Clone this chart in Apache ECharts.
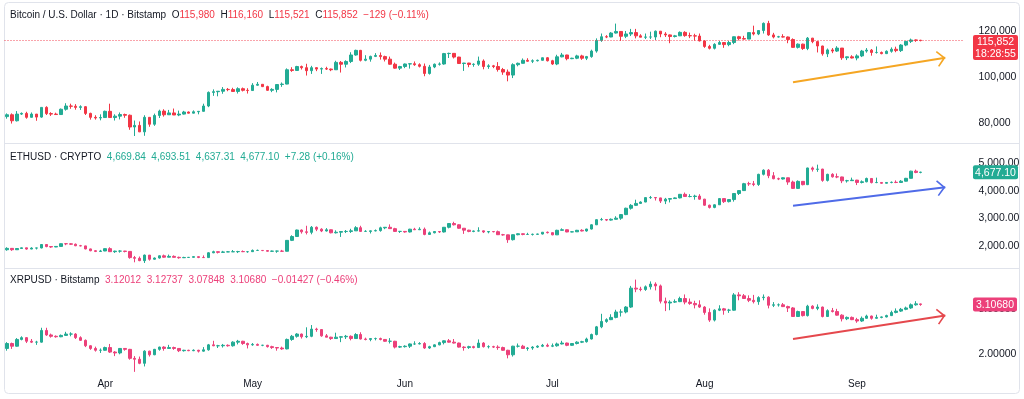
<!DOCTYPE html>
<html>
<head>
<meta charset="utf-8">
<script src="https://cdn.jsdelivr.net/npm/echarts@6/dist/echarts.min.js"></script>
<style>
html,body{margin:0;padding:0;background:#fff;}
#chart{width:1024px;height:399px;}
</style>
</head>
<body>
<div id="chart"></div>
<script>
const FONT = "'Liberation Sans',Arial,sans-serif";
const FS = 10;

// First trading day shown; categories are consecutive daily dates
const startDate = '2025-03-12';
const emptyDaysAfter = 8;
const monthLabels = {'04':'Apr','05':'May','06':'Jun','07':'Jul','08':'Aug','09':'Sep'};

// Tick labels shown on each price scale
const btcTicks = [80000, 100000, 120000];
const ethTicks = [2000, 3000, 4000, 5000];
const xrpTicks = [2, 3];

const btcCountdown = '18:28:55';

// Daily candles [open, high, low, close]
const btc = [
[82900,84300,82000,83700],[83700,84300,79900,81100],[81100,85300,80800,84000],[84000,84700,83600,84300],
[84300,85000,82000,82600],[82600,84700,82500,84000],[84000,84000,81100,82700],[82700,87000,82400,86900],
[86900,87400,83600,84200],[84200,84800,83200,84000],[84000,84600,83700,83800],[83800,86400,83600,86100],
[86100,88700,85500,87500],[87500,88500,86300,87400],[87400,88300,85900,86900],[86900,87800,85800,87200],
[87200,87500,83600,84300],[84300,84600,81600,82600],[82600,83500,81600,82300],[82300,83900,81300,82500],
[82500,85500,82400,85200],[85200,88500,82300,82500],[82500,83900,81200,83100],[83100,84700,81700,83800],
[83800,84200,82400,83500],[83500,83800,77200,78400],[78400,81200,74500,79100],[79100,80800,76200,76300],
[76300,83500,74600,82600],[82600,82700,78500,79600],[79600,84200,78900,83400],[83400,85900,82300,85300],
[85300,86100,82900,83700],[83700,85800,83600,84500],[84500,86400,83600,83600],[83600,85500,83100,84000],
[84000,85400,83800,84900],[84900,85100,84300,84400],[84400,85600,84300,85000],[85000,85300,83900,85200],
[85200,88500,85100,87500],[87500,93800,87000,93400],[93400,94700,91900,93700],[93700,94000,91700,93900],
[93900,95700,92800,94700],[94700,95300,93900,94600],[94600,95400,93600,93800],[93800,95600,92900,95000],
[95000,95500,93800,94300],[94300,95200,92900,94200],[94200,97400,94100,96500],[96500,97900,96300,96900],
[96900,96900,95700,95900],[95900,96300,94100,94300],[94300,95200,93500,94700],[94700,96900,93400,96800],
[96800,97700,95800,97000],[97000,103800,96900,103200],[103200,104300,102300,102900],[102900,104900,102800,104600],
[104600,105000,103300,104100],[104100,105800,100700,102800],[102800,104900,101400,104100],[104100,104300,102600,103500],
[103500,104200,101400,103700],[103700,104500,103100,103500],[103500,103700,102600,103200],[103200,107100,103100,106400],
[106400,107000,102000,105600],[105600,107300,104200,106800],[106800,110800,106100,109600],[109600,111900,109300,111600],
[111600,111800,106800,107300],[107300,109500,106900,107800],[107800,109300,106700,109000],[109000,110400,108700,109400],
[109400,110700,107600,108900],[108900,109300,106800,107800],[107800,108900,105400,105600],[105600,106300,103700,103900],
[103900,104900,103100,104600],[104600,105900,103900,105700],[105700,105900,103700,105800],[105800,106800,104900,105400],
[105400,106000,104200,104700],[104700,105900,100400,101600],[101600,105300,101100,104400],[104400,105900,103900,105600],
[105600,106400,105000,105700],[105700,110500,105400,110200],[110200,110600,108300,110300],[110300,110400,108100,108700],
[108700,108800,105700,105900],[105900,106200,102700,106100],[106100,106200,104300,105500],[105500,106000,104500,105600],
[105600,108900,104900,107000],[107000,107700,103400,104600],[104600,105600,103600,104900],[104900,105300,103900,104600],
[104600,106500,102400,103300],[103300,104000,101000,102200],[102200,103300,98200,100900],[100900,106000,99600,105400],
[105400,106300,104700,106000],[106000,108100,105900,107300],[107300,108200,106700,106900],[106900,107700,106100,107100],
[107100,107600,106800,107300],[107300,108500,107200,108400],[108400,108700,106800,107100],[107100,107500,105300,105700],
[105700,109700,105200,108800],[108800,110500,108600,109600],[109600,109700,107300,108000],[108000,108400,107800,108200],
[108200,109700,107800,109200],[109200,109700,107500,108200],[108200,109200,107400,108900],[108900,111900,108400,111300],
[111300,116800,110600,115900],[115900,118900,115300,117500],[117500,118200,116900,117400],[117400,119500,117300,119100],
[119100,123200,118900,119800],[119800,119900,115700,117700],[117700,120000,116900,118700],[118700,120900,117800,119300],
[119300,120900,116800,117900],[117900,118600,117300,117300],[117300,118900,116500,117400],[117400,119700,116500,117400],
[117400,120200,116100,119900],[119900,120000,117300,118700],[118700,119500,117400,118300],[118300,118500,114700,117600],
[117600,118300,117200,117900],[117900,119800,117800,119400],[119400,119900,117500,118000],[118000,119300,116900,117900],
[117900,118800,115800,117800],[117800,118900,115500,115700],[115700,116000,112700,113300],[113300,114000,112000,112500],
[112500,114700,112000,114200],[114200,115700,114100,115000],[115000,115100,112700,114100],[114100,115700,113400,115000],
[115000,117600,114300,117500],[117500,117900,115900,116700],[116700,117900,116300,116500],[116500,119300,116500,119300],
[119300,122300,118100,118700],[118700,120300,118200,120200],[120200,123700,118900,123300],[123300,124400,117900,118300],
[118300,119200,116800,117400],[117400,117900,117200,117500],[117500,118600,117200,117400],[117400,117600,114700,116300],
[116300,116800,112700,112900],[112900,114600,112400,114300],[114300,114500,111800,112400],[112400,117400,111700,116900],
[116900,117000,114700,115400],[115400,115600,110700,113500],[113500,113600,109300,110100],[110100,112400,108700,111800],
[111800,112600,110400,111300],[111300,113400,110900,112600],[112600,112600,107500,108400],[108400,108900,107400,108800],
[108800,109500,108100,108300],[108300,109900,107300,109200],[109200,111800,108700,111300],[111300,112600,110600,111700],
[111700,112200,109300,110700],[110700,113300,110200,110700],[110700,111100,109900,110200],[110200,111600,110000,111200],
[111200,112900,110600,112100],[112100,113200,110800,111500],[111500,114300,110900,113900],[113900,115500,113400,115500],
[115500,116700,114800,116100],[116100,116300,115300,115981],[115980,116160,115521,115852]
];

const eth = [
[1865,1955,1830,1915],[1915,1925,1825,1865],[1865,1925,1860,1910],[1910,1945,1900,1935],
[1935,1940,1865,1890],[1890,1955,1885,1925],[1925,1935,1875,1930],[1930,2060,1915,2055],
[2055,2070,1955,1980],[1980,2000,1935,1965],[1965,2000,1960,1985],[1985,2090,1980,2085],
[2085,2100,2030,2080],[2080,2105,2040,2065],[2065,2090,1995,2010],[2010,2040,1990,2005],
[2005,2010,1880,1895],[1895,1905,1810,1830],[1830,1850,1780,1805],[1805,1860,1790,1820],
[1820,1915,1815,1905],[1905,1955,1785,1795],[1795,1830,1750,1815],[1815,1845,1760,1815],
[1815,1825,1770,1805],[1805,1815,1540,1580],[1580,1640,1410,1555],[1555,1620,1450,1470],
[1470,1690,1385,1670],[1670,1675,1470,1520],[1520,1585,1505,1565],[1565,1660,1545,1645],
[1645,1690,1575,1595],[1595,1690,1590,1625],[1625,1660,1585,1590],[1590,1615,1540,1575],
[1575,1610,1565,1585],[1585,1600,1575,1590],[1590,1625,1580,1615],[1615,1620,1560,1585],
[1585,1660,1575,1580],[1580,1775,1575,1755],[1755,1830,1740,1795],[1795,1800,1730,1770],
[1770,1825,1750,1785],[1785,1820,1780,1790],[1790,1855,1785,1795],[1795,1825,1745,1800],
[1800,1840,1780,1795],[1795,1820,1755,1795],[1795,1875,1790,1840],[1840,1870,1825,1840],
[1840,1845,1815,1835],[1835,1845,1800,1810],[1810,1835,1785,1815],[1815,1830,1755,1815],
[1815,1860,1790,1810],[1810,2215,1805,2205],[2205,2390,2180,2345],[2345,2595,2335,2580],
[2580,2600,2450,2515],[2515,2735,2420,2495],[2495,2725,2425,2680],[2680,2710,2540,2610],
[2610,2645,2505,2545],[2545,2650,2525,2590],[2590,2600,2460,2480],[2480,2570,2455,2500],
[2500,2530,2330,2525],[2525,2580,2470,2530],[2530,2625,2475,2550],[2550,2720,2545,2665],
[2665,2735,2515,2530],[2530,2575,2510,2530],[2530,2560,2455,2550],[2550,2600,2530,2560],
[2560,2700,2520,2660],[2660,2680,2610,2680],[2680,2785,2620,2630],[2630,2660,2510,2530],
[2530,2545,2475,2530],[2530,2545,2485,2510],[2510,2625,2490,2610],[2610,2660,2580,2590],
[2590,2680,2585,2610],[2610,2670,2390,2420],[2420,2525,2400,2480],[2480,2540,2460,2525],
[2525,2535,2475,2510],[2510,2690,2490,2680],[2680,2830,2640,2815],[2815,2880,2745,2770],
[2770,2790,2625,2645],[2645,2650,2440,2575],[2575,2590,2500,2530],[2530,2560,2500,2545],
[2545,2680,2530,2550],[2550,2560,2470,2510],[2510,2540,2460,2525],[2525,2535,2495,2520],
[2520,2560,2400,2410],[2410,2440,2375,2405],[2405,2410,2115,2230],[2230,2420,2200,2410],
[2410,2460,2390,2445],[2445,2455,2390,2420],[2420,2480,2400,2420],[2420,2450,2380,2425],
[2425,2445,2410,2435],[2435,2505,2420,2500],[2500,2525,2455,2485],[2485,2490,2390,2405],
[2405,2590,2400,2570],[2570,2640,2565,2590],[2590,2600,2500,2510],[2510,2530,2500,2515],
[2515,2585,2510,2570],[2570,2610,2530,2545],[2545,2625,2520,2615],[2615,2790,2600,2770],
[2770,2970,2760,2955],[2955,3020,2920,2960],[2960,2970,2905,2940],[2940,3000,2920,2970],
[2970,3080,2960,3010],[3010,3160,2950,3140],[3140,3390,3120,3370],[3370,3520,3320,3475],
[3475,3680,3450,3545],[3545,3620,3535,3595],[3595,3765,3590,3755],[3755,3815,3710,3760],
[3760,3770,3650,3745],[3745,3750,3560,3630],[3630,3745,3520,3700],[3700,3735,3580,3720],
[3720,3765,3710,3745],[3745,3880,3730,3875],[3875,3940,3780,3795],[3795,3880,3765,3795],
[3795,3860,3680,3810],[3810,3880,3680,3700],[3700,3710,3460,3480],[3480,3500,3360,3400],
[3400,3510,3370,3495],[3495,3735,3490,3720],[3720,3730,3560,3610],[3610,3700,3580,3685],
[3685,3920,3610,3905],[3905,4030,3850,4010],[4010,4290,4000,4260],[4260,4330,4180,4255],
[4255,4360,4170,4230],[4230,4620,4180,4600],[4600,4780,4560,4750],[4750,4790,4460,4550],
[4550,4680,4420,4440],[4440,4480,4390,4430],[4430,4490,4410,4475],[4475,4480,4220,4320],
[4320,4370,4070,4090],[4090,4380,4070,4345],[4345,4350,4200,4225],[4225,4840,4210,4830],
[4830,4880,4700,4780],[4780,4950,4690,4790],[4790,4800,4330,4380],[4380,4620,4340,4600],
[4600,4640,4480,4510],[4510,4630,4460,4505],[4505,4515,4280,4365],[4365,4400,4300,4370],
[4370,4480,4360,4390],[4390,4400,4210,4305],[4305,4380,4270,4330],[4330,4480,4310,4450],
[4450,4460,4270,4300],[4300,4480,4280,4305],[4305,4320,4260,4275],[4275,4320,4270,4305],
[4305,4340,4275,4310],[4310,4380,4280,4305],[4305,4390,4290,4350],[4350,4470,4340,4455],
[4455,4730,4450,4715],[4715,4770,4640,4669.82],[4669.84,4693.51,4637.31,4677.10]
];

const xrp = [
[2.13,2.27,2.08,2.24],[2.24,2.26,2.12,2.18],[2.18,2.36,2.17,2.33],[2.33,2.40,2.31,2.37],
[2.37,2.38,2.25,2.29],[2.29,2.34,2.25,2.27],[2.27,2.30,2.21,2.27],[2.27,2.59,2.26,2.53],
[2.53,2.59,2.41,2.43],[2.43,2.46,2.37,2.40],[2.40,2.42,2.37,2.39],[2.39,2.44,2.38,2.42],
[2.42,2.50,2.41,2.45],[2.45,2.49,2.40,2.45],[2.45,2.47,2.34,2.37],[2.37,2.40,2.30,2.31],
[2.31,2.33,2.16,2.19],[2.19,2.20,2.10,2.13],[2.13,2.17,2.06,2.09],[2.09,2.13,2.03,2.09],
[2.09,2.17,2.08,2.15],[2.15,2.23,2.03,2.05],[2.05,2.07,1.96,2.03],[2.03,2.14,2.00,2.13],
[2.13,2.14,2.08,2.11],[2.11,2.12,1.88,1.91],[1.91,1.96,1.61,1.89],[1.89,1.95,1.78,1.80],
[1.80,2.09,1.73,2.07],[2.07,2.08,1.95,1.99],[1.99,2.12,1.98,2.11],[2.11,2.17,2.08,2.16],
[2.16,2.18,2.08,2.13],[2.13,2.21,2.12,2.15],[2.15,2.17,2.10,2.13],[2.13,2.13,2.05,2.08],
[2.08,2.10,2.06,2.09],[2.09,2.10,2.07,2.08],[2.08,2.11,2.07,2.09],[2.09,2.10,2.04,2.07],
[2.07,2.16,2.06,2.10],[2.10,2.23,2.08,2.21],[2.21,2.30,2.18,2.19],[2.19,2.21,2.14,2.19],
[2.19,2.23,2.15,2.20],[2.20,2.22,2.17,2.19],[2.19,2.29,2.17,2.27],[2.27,2.32,2.22,2.29],
[2.29,2.30,2.21,2.24],[2.24,2.26,2.13,2.21],[2.21,2.25,2.19,2.22],[2.22,2.24,2.19,2.20],
[2.20,2.21,2.18,2.20],[2.20,2.21,2.15,2.17],[2.17,2.19,2.12,2.15],[2.15,2.16,2.08,2.14],
[2.14,2.17,2.10,2.12],[2.12,2.35,2.11,2.33],[2.33,2.43,2.30,2.40],[2.40,2.47,2.37,2.45],
[2.45,2.46,2.35,2.39],[2.39,2.60,2.36,2.40],[2.40,2.65,2.38,2.56],[2.56,2.59,2.50,2.55],
[2.55,2.56,2.39,2.41],[2.41,2.45,2.38,2.38],[2.38,2.39,2.32,2.35],[2.35,2.48,2.34,2.38],
[2.38,2.40,2.27,2.39],[2.39,2.43,2.34,2.40],[2.40,2.42,2.31,2.35],[2.35,2.47,2.34,2.44],
[2.44,2.49,2.33,2.34],[2.34,2.37,2.31,2.33],[2.33,2.35,2.29,2.35],[2.35,2.37,2.31,2.35],
[2.35,2.37,2.31,2.33],[2.33,2.34,2.28,2.29],[2.29,2.36,2.24,2.29],[2.29,2.30,2.13,2.16],
[2.16,2.19,2.14,2.17],[2.17,2.20,2.15,2.18],[2.18,2.24,2.14,2.23],[2.23,2.29,2.21,2.23],
[2.23,2.27,2.22,2.24],[2.24,2.27,2.12,2.14],[2.14,2.19,2.12,2.17],[2.17,2.22,2.16,2.21],
[2.21,2.28,2.20,2.26],[2.26,2.31,2.22,2.30],[2.30,2.34,2.26,2.27],[2.27,2.34,2.24,2.25],
[2.25,2.26,2.15,2.16],[2.16,2.18,2.08,2.15],[2.15,2.19,2.12,2.17],[2.17,2.19,2.13,2.15],
[2.15,2.33,2.14,2.25],[2.25,2.27,2.15,2.17],[2.17,2.20,2.13,2.17],[2.17,2.19,2.14,2.16],
[2.16,2.20,2.10,2.15],[2.15,2.17,2.08,2.09],[2.09,2.10,1.91,1.99],[1.99,2.19,1.95,2.18],
[2.18,2.24,2.15,2.18],[2.18,2.21,2.12,2.13],[2.13,2.16,2.08,2.14],[2.14,2.18,2.10,2.16],
[2.16,2.20,2.14,2.18],[2.18,2.23,2.16,2.20],[2.20,2.24,2.16,2.18],[2.18,2.24,2.16,2.19],
[2.19,2.26,2.17,2.23],[2.23,2.30,2.22,2.25],[2.25,2.26,2.18,2.20],[2.20,2.25,2.19,2.24],
[2.24,2.29,2.22,2.27],[2.27,2.30,2.25,2.28],[2.28,2.37,2.26,2.34],[2.34,2.46,2.33,2.44],
[2.44,2.63,2.42,2.61],[2.61,2.90,2.58,2.73],[2.73,2.80,2.70,2.77],[2.77,2.89,2.76,2.82],
[2.82,2.99,2.80,2.94],[2.94,3.00,2.84,2.94],[2.94,3.07,2.91,3.05],[3.05,3.52,3.03,3.47],
[3.47,3.66,3.38,3.45],[3.45,3.50,3.40,3.44],[3.44,3.53,3.41,3.50],[3.50,3.62,3.44,3.56],
[3.56,3.60,3.42,3.52],[3.52,3.55,3.13,3.18],[3.18,3.26,2.96,3.14],[3.14,3.20,2.98,3.16],
[3.16,3.22,3.14,3.17],[3.17,3.28,3.16,3.24],[3.24,3.33,3.11,3.16],[3.16,3.24,3.10,3.13],
[3.13,3.19,3.02,3.10],[3.10,3.20,3.03,3.05],[3.05,3.07,2.88,2.93],[2.93,3.02,2.72,2.76],
[2.76,3.00,2.73,2.98],[2.98,3.09,2.96,3.01],[3.01,3.03,2.88,2.98],[2.98,3.01,2.92,2.98],
[2.98,3.36,2.97,3.32],[3.32,3.38,3.20,3.30],[3.30,3.34,3.24,3.24],[3.24,3.31,3.16,3.20],
[3.20,3.32,3.13,3.17],[3.17,3.29,3.10,3.26],[3.26,3.33,3.20,3.27],[3.27,3.29,3.02,3.09],
[3.09,3.16,3.05,3.10],[3.10,3.13,3.06,3.10],[3.10,3.14,3.05,3.06],[3.06,3.08,2.94,3.03],
[3.03,3.05,2.83,2.84],[2.84,2.97,2.83,2.95],[2.95,2.96,2.84,2.86],[2.86,3.10,2.84,3.07],
[3.07,3.09,3.00,3.02],[3.02,3.11,2.98,3.05],[3.05,3.06,2.82,2.84],[2.84,3.00,2.83,2.97],
[2.97,3.03,2.93,2.95],[2.95,3.01,2.86,2.87],[2.87,2.89,2.73,2.79],[2.79,2.84,2.76,2.82],
[2.82,2.84,2.76,2.77],[2.77,2.81,2.70,2.74],[2.74,2.84,2.72,2.80],[2.80,2.88,2.79,2.85],
[2.85,2.86,2.77,2.80],[2.80,2.88,2.79,2.82],[2.82,2.84,2.80,2.83],[2.83,2.88,2.82,2.86],
[2.86,2.97,2.85,2.93],[2.93,3.02,2.91,2.96],[2.96,3.03,2.94,3.00],[3.00,3.06,2.98,3.03],
[3.03,3.13,3.01,3.10],[3.10,3.18,3.08,3.12107],[3.12012,3.12737,3.07848,3.10680]
];

// Trend arrows: [startDateIndex, startValue], [endDateIndex, endValue]
const btcArrow = [[160, 97800], [191, 108400]];
const ethArrow = [[160, 3460], [191, 4130]];
const xrpArrow = [[160, 2.34], [191, 2.86]];

// ---------- build ----------
const N = btc.length;
const dates = [];
{
  const t0 = Date.parse(startDate + 'T00:00:00Z');
  for (let i = 0; i < N + emptyDaysAfter; i++) {
    dates.push(new Date(t0 + i * 86400000).toISOString().slice(0, 10));
  }
}
const toEC = rows => rows.map(r => [r[0], r[3], r[2], r[1]]);

const UP = '#22ab94';
const BTC_DOWN = '#f23645';
const ALT_DOWN = '#ec407a';
const TXT = '#131722';

const fmtBtc = v => Math.round(v).toLocaleString('en-US');
const fmtEth = v => v.toLocaleString('en-US', {minimumFractionDigits: 2, maximumFractionDigits: 2});
const fmtXrp = v => v.toFixed(5);
const signed = (d, f) => (d < 0 ? '\u2212' : '+') + f(Math.abs(d));

function header(rows, fmt, name, letters) {
  const last = rows[rows.length - 1], prev = rows[rows.length - 2][3];
  const d = last[3] - prev, p = d / prev * 100;
  const lab = ['O', 'H', 'L', 'C'];
  let s = '{n|' + name + '}';
  for (let i = 0; i < 4; i++) {
    s += '  ' + (letters ? '{n|' + lab[i] + '}' : '') + '{v|' + fmt(last[i]) + '}';
  }
  s += '  {v|' + signed(d, fmt) + ' (' + signed(p, x => x.toFixed(2)) + '%)}';
  return s;
}
function titleOpt(text, top, color) {
  return {
    text, left: 5, top,
    textStyle: {
      fontSize: FS, fontFamily: FONT, fontWeight: 'normal',
      rich: {
        n: {color: TXT, fontSize: FS, fontFamily: FONT},
        v: {color, fontSize: FS, fontFamily: FONT}
      }
    }
  };
}

const gridL = 4.5, gridR = 61.5;
const grids = [
  {left: gridL, right: gridR, top: 7.9, height: 138.5},
  {left: gridL, right: gridR, top: 149.5, height: 124.1},
  {left: gridL, right: gridR, top: 264.3, height: 112.5}
];

function xAx(i, show) {
  return {
    type: 'category', gridIndex: i, data: dates, boundaryGap: true, show,
    axisLine: {show: false}, axisTick: {show: false}, splitLine: {show: false},
    axisLabel: {
      show, margin: 2, color: TXT, fontSize: FS, fontFamily: FONT,
      interval: (idx, val) => val.slice(8) === '01' && monthLabels[val.slice(5, 7)] !== undefined,
      formatter: val => monthLabels[val.slice(5, 7)] || ''
    }
  };
}
function yAx(i, min, max, interval, ticks, fmt) {
  return {
    type: 'value', gridIndex: i, position: 'right', min, max, interval, scale: true,
    axisLine: {show: false}, axisTick: {show: false}, splitLine: {show: false},
    axisLabel: {
      margin: 16, color: TXT, fontSize: FS + 0.5, fontFamily: FONT,
      formatter: v => ticks.some(t => Math.abs(t - v) < 1e-9) ? fmt(v) : ''
    }
  };
}

const chevron = 'path://M10,0L10,0.01Z M10,10L20,19L18.6,20.4L10,12.8L1.4,20.4L0,19Z';
function arrowLine(arr, color) {
  return {
    silent: true, animation: false,
    symbol: ['none', chevron], symbolSize: [16, 17],
    lineStyle: {color, width: 2, type: 'solid'},
    label: {show: false},
    data: [[{coord: [dates[arr[0][0]], arr[0][1]]}, {coord: [dates[arr[1][0]], arr[1][1]]}]]
  };
}
function candle(i, rows, down, markLine) {
  return {
    type: 'candlestick', xAxisIndex: i, yAxisIndex: i, data: toEC(rows),
    barWidth: 3, z: 3,
    itemStyle: {color: UP, color0: down, borderColor: UP, borderColor0: down, borderWidth: 1},
    markLine
  };
}

const btcLast = btc[N - 1][3], ethLast = eth[N - 1][3], xrpLast = xrp[N - 1][3];

const chart = echarts.init(document.getElementById('chart'), null, {renderer: 'canvas'});
chart.setOption({
  animation: false,
  backgroundColor: '#ffffff',
  title: [
    titleOpt(header(btc, fmtBtc, 'Bitcoin / U.S. Dollar \u00b7 1D \u00b7 Bitstamp', true), 5, BTC_DOWN),
    titleOpt(header(eth, fmtEth, 'ETHUSD \u00b7 CRYPTO', false), 147.5, UP),
    titleOpt(header(xrp, fmtXrp, 'XRPUSD \u00b7 Bitstamp', false), 270.5, ALT_DOWN)
  ],
  grid: grids,
  xAxis: [xAx(0, false), xAx(1, false), xAx(2, true)],
  yAxis: [
    yAx(0, 70000, 130000, 10000, btcTicks, fmtBtc),
    yAx(1, 1000, 5500, 500, ethTicks, fmtEth),
    yAx(2, 1.5, 4.0, 0.5, xrpTicks, fmtXrp)
  ],
  series: [
    candle(0, btc, BTC_DOWN, arrowLine(btcArrow, '#f5a623')),
    candle(1, eth, ALT_DOWN, arrowLine(ethArrow, '#4f6be8')),
    candle(2, xrp, ALT_DOWN, arrowLine(xrpArrow, '#e5484d')),
    {
      // holder for the BTC last-price dotted line
      type: 'line', xAxisIndex: 0, yAxisIndex: 0, data: [], z: 1,
      markLine: {
        silent: true, animation: false, symbol: ['none', 'none'],
        label: {show: false},
        lineStyle: {color: BTC_DOWN, type: [1, 2], width: 1, opacity: 0.9},
        data: [{yAxis: btcLast}]
      }
    }
  ],
  graphic: [
    {type: 'rect', id: 'frame', silent: true, z: -1, shape: {x: 4.5, y: 2.5, width: 1015, height: 391, r: 4},
     style: {fill: 'none', stroke: '#e0e3eb', lineWidth: 1}},
    {type: 'line', id: 'sep1', silent: true, shape: {x1: 5, y1: 143.5, x2: 1019, y2: 143.5},
     style: {stroke: '#e0e3eb', lineWidth: 1}},
    {type: 'line', id: 'sep2', silent: true, shape: {x1: 5, y1: 268.5, x2: 1019, y2: 268.5},
     style: {stroke: '#e0e3eb', lineWidth: 1}}
  ]
});

// price tags placed on each price scale through the library's own axes
const yB = chart.convertToPixel({yAxisIndex: 0}, btcLast);
const yE = chart.convertToPixel({yAxisIndex: 1}, ethLast);
const yX = chart.convertToPixel({yAxisIndex: 2}, xrpLast);
const tagFont = (FS + 0.5) + 'px ' + FONT;
chart.setOption({
  graphic: [
    {type: 'rect', id: 'tagB', z: 100, shape: {x: 973, y: yB - 5.5, width: 45, height: 25, r: 2}, style: {fill: BTC_DOWN}},
    {type: 'text', id: 'tagBt', z: 101, x: 995.5, y: yB - 4,
     style: {text: fmtBtc(btcLast) + '\n' + btcCountdown, fill: '#fff', font: tagFont, align: 'center', verticalAlign: 'top', lineHeight: 12}},
    {type: 'rect', id: 'tagE', z: 100, shape: {x: 973, y: yE - 7, width: 45, height: 14, r: 2}, style: {fill: UP}},
    {type: 'text', id: 'tagEt', z: 101, x: 995.5, y: yE + 0.5,
     style: {text: fmtEth(ethLast), fill: '#fff', font: tagFont, align: 'center', verticalAlign: 'middle'}},
    {type: 'rect', id: 'tagX', z: 100, shape: {x: 973, y: yX - 7, width: 44, height: 14, r: 2}, style: {fill: ALT_DOWN}},
    {type: 'text', id: 'tagXt', z: 101, x: 995, y: yX + 0.5,
     style: {text: fmtXrp(xrpLast), fill: '#fff', font: tagFont, align: 'center', verticalAlign: 'middle'}}
  ]
});
</script>
</body>
</html>
